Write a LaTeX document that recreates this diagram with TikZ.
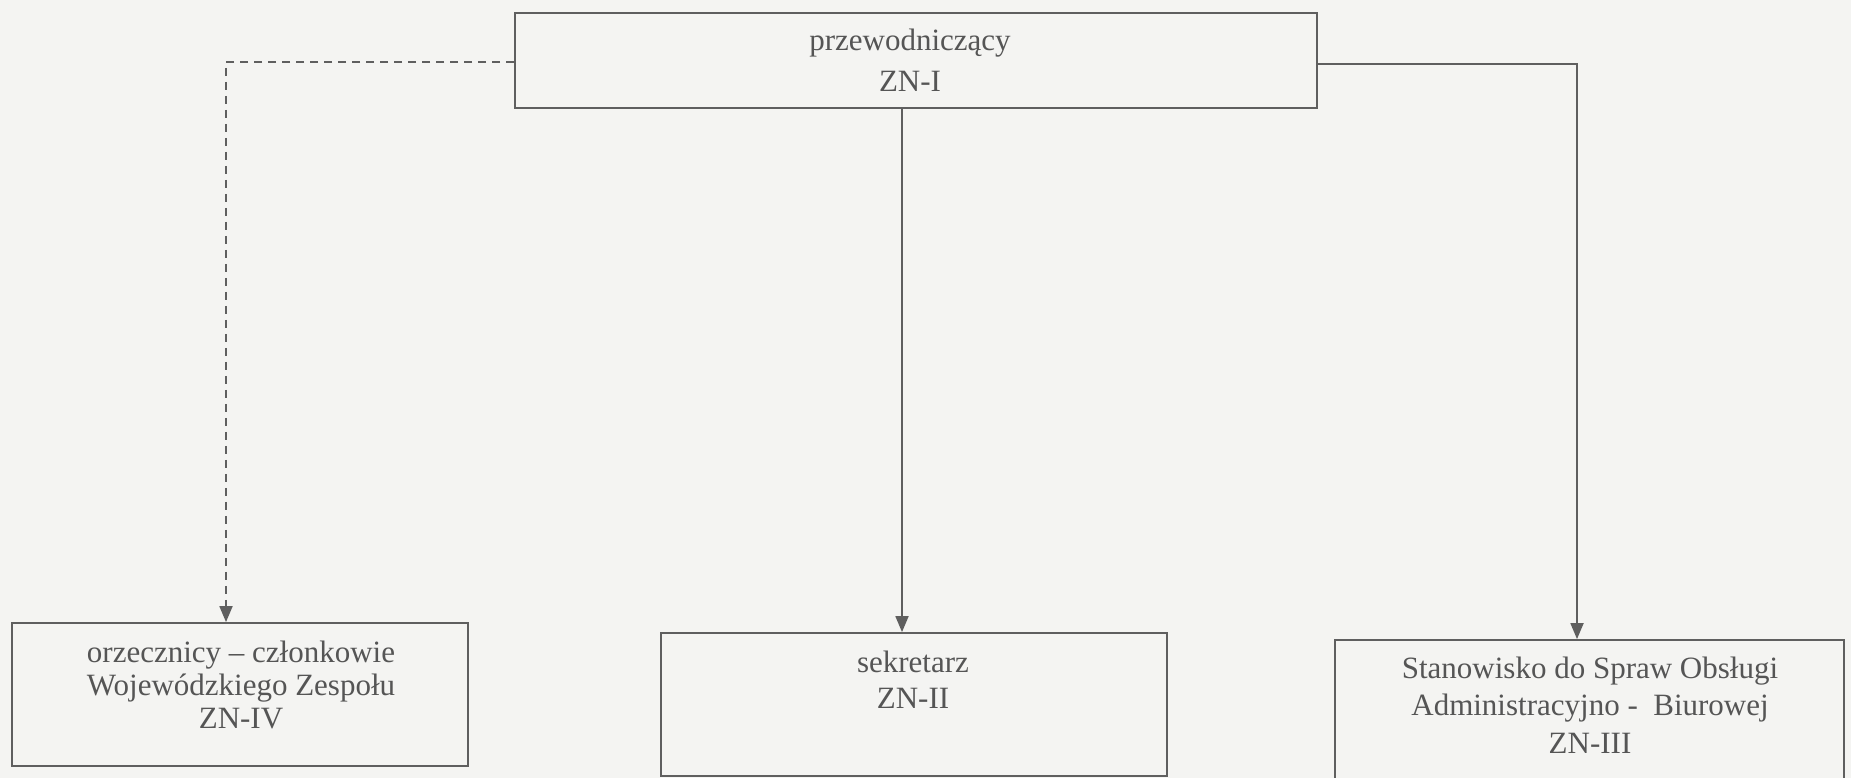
\documentclass[tikz,border=0pt]{standalone}
\usepackage{fontspec}
\setmainfont{Liberation Serif}
\usetikzlibrary{arrows.meta}
\definecolor{bg}{RGB}{244,244,242}
\definecolor{ink}{RGB}{95,95,95}
\definecolor{txt}{RGB}{85,85,85}
\begin{document}
\begin{tikzpicture}[x=1pt,y=-1pt,
  box/.style={draw=ink, line width=1.8pt, rectangle, inner sep=0pt, minimum height=143pt},
  lbl/.style={text=txt, align=center, inner sep=0pt, anchor=base},
  arr/.style={draw=ink, line width=1.8pt, -{Triangle[length=16pt,width=13pt]}}]
\fill[bg] (0,0) rectangle (1851,778);
\useasboundingbox (0,0) rectangle (1851,778);

\node[box, minimum width=802pt, minimum height=95pt] (top) at (916,60.5) {};
\node[box, minimum width=456pt] (lb) at (240,694.5) {};
\node[box, minimum width=506pt] (mb) at (914,704.5) {};
\node[box, minimum width=509pt] (rb) at (1589.5,711.5) {};

% base anchor = baseline of the last line
\node[lbl, font=\fontsize{31}{41}\selectfont] (ttop) at (910,92) {przewodniczący\\ZN-I};
\node[lbl, font=\fontsize{31}{33}\selectfont] (tlb) at (241,728) {orzecznicy – członkowie\\Wojewódzkiego Zespołu\\ZN-IV};
\node[lbl, font=\fontsize{31}{36}\selectfont] (tmb) at (913,708) {sekretarz\\ZN-II};
\node[lbl, font=\fontsize{31}{37.5}\selectfont] (trb) at (1590,753) {Stanowisko do Spraw Obsługi\\Administracyjno -\ \ Biurowej\\ZN-III};

\draw[arr] ([xshift=-14pt]top.south) -- ([xshift=-14pt]top.south |- mb.north);
\draw[arr] ([yshift=-3.5pt]top.east) -| ([xshift=-12.5pt]rb.north);
\draw[arr, dash pattern=on 8pt off 6pt] ([yshift=-1.5pt]top.west) -| ([xshift=-14pt]lb.north);
\end{tikzpicture}
\end{document}
